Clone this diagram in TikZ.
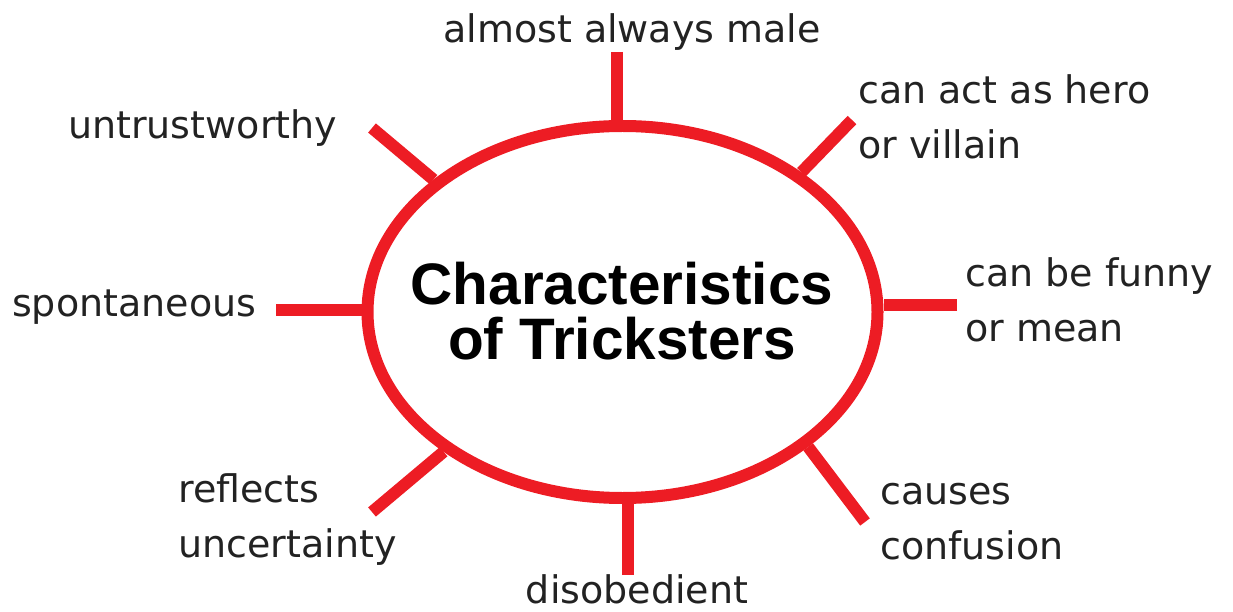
\documentclass[tikz,border=0pt]{standalone}
\usepackage{fontspec}
\setmainfont{DejaVu Sans}
\newfontfamily\titlefont{Liberation Sans}
\usetikzlibrary{shapes.geometric, positioning}
\definecolor{trkred}{HTML}{ED1C24}
\definecolor{inkgray}{HTML}{222222}

\begin{document}
\begin{tikzpicture}[
  x=1pt, y=1pt,
  spoke/.style={draw=trkred, line width=12pt},
  hubring/.style={ellipse, draw=trkred, line width=12pt, inner sep=0pt,
                  minimum width=510pt, minimum height=372pt},
  lab/.style={inkgray, align=left, inner sep=0pt, font=\fontsize{38}{55}\selectfont},
  ttl/.style={align=center, inner sep=0pt, font=\titlefont\bfseries\fontsize{58.5}{55}\selectfont},
]
\useasboundingbox (0,0) rectangle (1233,611);

% ---------- centre ----------
\node[hubring] (hub) at (622.5,299) {};
\node[ttl] (title) at (622,300) {Characteristics\\ of Tricksters};

% ---------- spoke ends ----------
\coordinate (eTop) at (617,559);
\coordinate (eUR)  at (852,491);
\coordinate (eR)   at (957,306);
\coordinate (eLR)  at (865,89);
\coordinate (eBot) at (628,36);
\coordinate (eLL)  at (372,99);
\coordinate (eL)   at (276,301);
\coordinate (eUL)  at (372,483);

% straight up/down/left/right
\draw[spoke] (eTop) -- (eTop |- hub.north);
\draw[spoke] (eBot) -- (eBot |- hub.south);
\draw[spoke] (eR) -- (eR -| hub.east);
\draw[spoke] (eL) -- (eL -| hub.west);
% diagonals
\foreach \a/\e in {38/eUR, -36/eLR, 218/eLL, 145/eUL}
  \draw[spoke] (hub.\a) -- (\e);

% ---------- labels ----------
\node[lab] (top) at (632,579) {almost always male};
\node[lab, anchor=west] (hero) at (858,494) {can act as hero\\ or villain};
\node[lab, anchor=west] (funny) at (965,311) {can be funny\\ or mean};
\node[lab, anchor=west] (conf) at (880,89) {causes\\ confusion};
\node[lab] (disob) at (637,22) {disobedient};
\node[lab, anchor=west] (refl) at (178,91) {reflects\\ uncertainty};
\node[lab, anchor=west] (spont) at (12,304) {spontaneous};
\node[lab, anchor=west] (untr) at (68,483) {untrustworthy};

\end{tikzpicture}
\end{document}
